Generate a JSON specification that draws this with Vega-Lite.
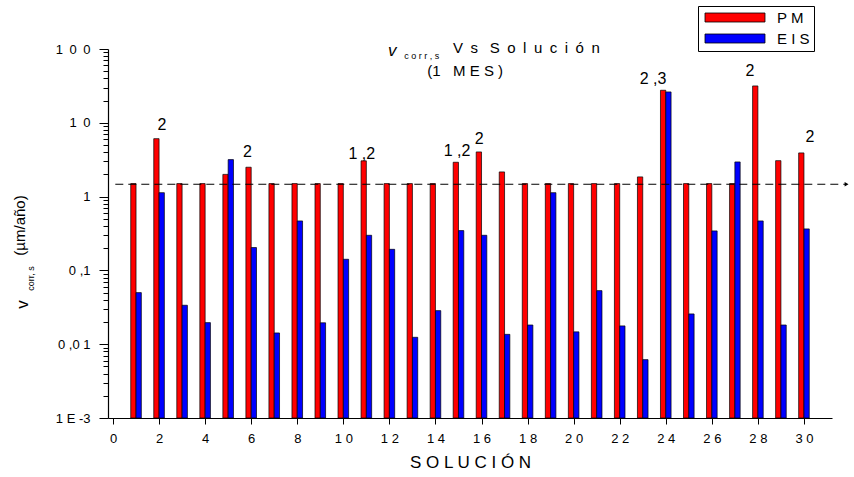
{
  "$schema": "https://vega.github.io/schema/vega-lite/v6.json",
  "width": 724,
  "height": 369,
  "autosize": {"type": "none"},
  "padding": {"left": 108, "top": 49, "right": 22, "bottom": 59},
  "background": "white",
  "config": {
    "view": {"stroke": null},
    "font": "Liberation Sans",
    "axis": {"grid": false, "domainColor": "black", "tickColor": "black", "labelColor": "black", "titleColor": "black", "labelFont": "Liberation Sans", "titleFont": "Liberation Sans", "titleFontWeight": "normal", "labelFontSize": 13, "titleFontSize": 17, "labelOverlap": false, "labelFlush": false, "domainWidth": 1.2, "tickWidth": 1}
  },
  "datasets": {
    "bars": [
      {"s": 1, "series": "PM", "v": 1.5}, {"s": 2, "series": "PM", "v": 6.1}, {"s": 3, "series": "PM", "v": 1.5}, {"s": 4, "series": "PM", "v": 1.5}, {"s": 5, "series": "PM", "v": 2.0},
      {"s": 6, "series": "PM", "v": 2.5}, {"s": 7, "series": "PM", "v": 1.5}, {"s": 8, "series": "PM", "v": 1.5}, {"s": 9, "series": "PM", "v": 1.5}, {"s": 10, "series": "PM", "v": 1.5},
      {"s": 11, "series": "PM", "v": 3.05}, {"s": 12, "series": "PM", "v": 1.5}, {"s": 13, "series": "PM", "v": 1.5}, {"s": 14, "series": "PM", "v": 1.5}, {"s": 15, "series": "PM", "v": 2.92},
      {"s": 16, "series": "PM", "v": 4.03}, {"s": 17, "series": "PM", "v": 2.16}, {"s": 18, "series": "PM", "v": 1.5}, {"s": 19, "series": "PM", "v": 1.5}, {"s": 20, "series": "PM", "v": 1.5},
      {"s": 21, "series": "PM", "v": 1.5}, {"s": 22, "series": "PM", "v": 1.5}, {"s": 23, "series": "PM", "v": 1.85}, {"s": 24, "series": "PM", "v": 27.6}, {"s": 25, "series": "PM", "v": 1.5},
      {"s": 26, "series": "PM", "v": 1.5}, {"s": 27, "series": "PM", "v": 1.5}, {"s": 28, "series": "PM", "v": 31.6}, {"s": 29, "series": "PM", "v": 3.07}, {"s": 30, "series": "PM", "v": 3.91},
      {"s": 1, "series": "EIS", "v": 0.05}, {"s": 2, "series": "EIS", "v": 1.13}, {"s": 3, "series": "EIS", "v": 0.0337}, {"s": 4, "series": "EIS", "v": 0.0196}, {"s": 5, "series": "EIS", "v": 3.17},
      {"s": 6, "series": "EIS", "v": 0.204}, {"s": 7, "series": "EIS", "v": 0.0142}, {"s": 8, "series": "EIS", "v": 0.468}, {"s": 9, "series": "EIS", "v": 0.0195}, {"s": 10, "series": "EIS", "v": 0.1415},
      {"s": 11, "series": "EIS", "v": 0.299}, {"s": 12, "series": "EIS", "v": 0.193}, {"s": 13, "series": "EIS", "v": 0.0124}, {"s": 14, "series": "EIS", "v": 0.0285}, {"s": 15, "series": "EIS", "v": 0.346},
      {"s": 16, "series": "EIS", "v": 0.299}, {"s": 17, "series": "EIS", "v": 0.0136}, {"s": 18, "series": "EIS", "v": 0.0182}, {"s": 19, "series": "EIS", "v": 1.13}, {"s": 20, "series": "EIS", "v": 0.0147},
      {"s": 21, "series": "EIS", "v": 0.0532}, {"s": 22, "series": "EIS", "v": 0.0177}, {"s": 23, "series": "EIS", "v": 0.00618}, {"s": 24, "series": "EIS", "v": 26.2}, {"s": 25, "series": "EIS", "v": 0.0257},
      {"s": 26, "series": "EIS", "v": 0.343}, {"s": 27, "series": "EIS", "v": 2.95}, {"s": 28, "series": "EIS", "v": 0.468}, {"s": 29, "series": "EIS", "v": 0.0182}, {"s": 30, "series": "EIS", "v": 0.365}
    ],
    "annots": [
      {"s": 2.13, "lab": "2", "ly": 7.9},
      {"s": 5.84, "lab": "2", "ly": 3.45},
      {"s": 10.8, "lab": "1 ,2", "ly": 3.2},
      {"s": 14.94, "lab": "1 ,2", "ly": 3.56},
      {"s": 15.9, "lab": "2", "ly": 5.2},
      {"s": 23.45, "lab": "2 ,3", "ly": 33.3},
      {"s": 27.65, "lab": "2", "ly": 42.7},
      {"s": 30.26, "lab": "2", "ly": 5.5}
    ],
    "texts": [
      {"part": "tv", "x": 12.12, "y": 95.1, "t": "v"},
      {"part": "tsub", "x": 13.4, "y": 80.1, "t": "c o r r ,  s"},
      {"part": "tmain", "x": 17.95, "y": 104.5, "t": "V\u2002s\u2002 S\u2002o\u2002l\u2002u\u2002c\u2002i\u2002ó\u2002n"},
      {"part": "tmain", "x": 15.29, "y": 50.2, "t": "(1\u00a0\u00a0 M E S )"},
      {"part": "yv", "x": -3.9, "y": 0.0344, "t": "v"},
      {"part": "ysub", "x": -3.55, "y": 0.0774, "t": "corr, s"}
    ]
  },
  "layer": [
    {
      "data": {"name": "bars"},
      "transform": [{"filter": "datum.series == 'PM'"}],
      "mark": {"type": "bar", "width": 5.3, "xOffset": -2.65, "stroke": "black", "strokeWidth": 0.7},
      "encoding": {
        "x": {"field": "s", "type": "quantitative", "scale": {"domain": [0, 31], "nice": false, "zero": false},
          "axis": {"values": [0,1,2,3,4,5,6,7,8,9,10,11,12,13,14,15,16,17,18,19,20,21,22,23,24,25,26,27,28,29,30,31],
            "labelExpr": "datum.value % 2 == 0 ? (datum.value < 10 ? '' + datum.value : floor(datum.value / 10) + ' ' + (datum.value % 10)) : ''",
            "tickSize": {"condition": {"test": "datum.value % 2 == 0", "value": 6}, "value": 3},
            "labelPadding": 8, "title": "S O L U C I Ó N", "titlePadding": 9}},
        "y": {"field": "v", "type": "quantitative", "scale": {"type": "log", "domain": [0.001, 100], "nice": false},
          "axis": {"values": [0.001,0.002,0.003,0.004,0.005,0.006,0.007,0.008,0.009,0.01,0.02,0.03,0.04,0.05,0.06,0.07,0.08,0.09,0.1,0.2,0.3,0.4,0.5,0.6,0.7,0.8,0.9,1,2,3,4,5,6,7,8,9,10,20,30,40,50,60,70,80,90,100],
            "labelExpr": "datum.value == 0.001 ? '1 E -3' : datum.value == 0.01 ? '0 ,0 1' : datum.value == 0.1 ? '0 ,1' : datum.value == 1 ? '1' : datum.value == 10 ? '1\u20020' : datum.value == 100 ? '1\u20020\u20020' : ''",
            "tickSize": {"condition": {"test": "indexof([0.001, 0.01, 0.1, 1, 10, 100], datum.value) >= 0", "value": 9}, "value": 5},
            "labelPadding": 9, "title": "(µm/año)", "titleFontSize": 15, "titleX": -89, "titleY": 176, "titleAngle": 270, "titleAlign": "center", "titleBaseline": "middle"}},
        "y2": {"datum": 0.001},
        "color": {"field": "series", "type": "nominal", "scale": {"domain": ["PM", "EIS"], "range": ["#ff0000", "#0000ff"]},
          "legend": {"orient": "none", "legendX": 590, "legendY": -43, "title": null, "symbolType": "M-1,-1H12.33V1H-1Z", "symbolSize": 81, "symbolStrokeColor": "black", "symbolStrokeWidth": 0.8, "strokeColor": "black", "fillColor": "white", "padding": 4, "labelFontSize": 15, "labelFont": "Liberation Sans", "labelColor": "black", "labelOffset": 60, "rowPadding": 5, "labelExpr": "datum.value == 'PM' ? 'P M' : 'E I S'"}}
      }
    },
    {
      "data": {"name": "bars"},
      "transform": [{"filter": "datum.series == 'EIS'"}],
      "mark": {"type": "bar", "width": 5.3, "xOffset": 2.65, "stroke": "black", "strokeWidth": 0.7},
      "encoding": {
        "x": {"field": "s", "type": "quantitative"},
        "y": {"field": "v", "type": "quantitative"},
        "y2": {"datum": 0.001},
        "color": {"field": "series", "type": "nominal"}
      }
    },
    {
      "data": {"values": [{}]},
      "mark": {"type": "rule", "strokeDash": [8, 5], "color": "black", "strokeWidth": 1, "clip": false},
      "encoding": {
        "x": {"datum": 0.1, "type": "quantitative"},
        "x2": {"datum": 31.8},
        "y": {"datum": 1.47, "type": "quantitative"}
      }
    },
    {
      "data": {"values": [{}]},
      "mark": {"type": "point", "shape": "triangle-right", "filled": true, "color": "black", "size": 20, "opacity": 1, "clip": false},
      "encoding": {
        "x": {"datum": 31.85, "type": "quantitative"},
        "y": {"datum": 1.47, "type": "quantitative"}
      }
    },
    {
      "data": {"name": "annots"},
      "mark": {"type": "text", "fontSize": 16, "baseline": "alphabetic", "align": "center", "color": "black", "font": "Liberation Sans"},
      "encoding": {
        "x": {"field": "s", "type": "quantitative"},
        "y": {"field": "ly", "type": "quantitative"},
        "text": {"field": "lab"}
      }
    },
    {
      "data": {"name": "texts"},
      "transform": [{"filter": "datum.part == 'tv'"}],
      "mark": {"type": "text", "fontSize": 17, "fontStyle": "italic", "baseline": "middle", "align": "center", "color": "black"},
      "encoding": {
        "x": {"field": "x", "type": "quantitative"},
        "y": {"field": "y", "type": "quantitative"},
        "text": {"field": "t"}
      }
    },
    {
      "data": {"name": "texts"},
      "transform": [{"filter": "datum.part == 'tsub'"}],
      "mark": {"type": "text", "fontSize": 9, "baseline": "middle", "align": "center", "color": "black"},
      "encoding": {
        "x": {"field": "x", "type": "quantitative"},
        "y": {"field": "y", "type": "quantitative"},
        "text": {"field": "t"}
      }
    },
    {
      "data": {"name": "texts"},
      "transform": [{"filter": "datum.part == 'tmain'"}],
      "mark": {"type": "text", "fontSize": 15, "baseline": "middle", "align": "center", "color": "black"},
      "encoding": {
        "x": {"field": "x", "type": "quantitative"},
        "y": {"field": "y", "type": "quantitative"},
        "text": {"field": "t"}
      }
    },
    {
      "data": {"name": "texts"},
      "transform": [{"filter": "datum.part == 'yv'"}],
      "mark": {"type": "text", "fontSize": 17, "baseline": "middle", "align": "center", "color": "black", "angle": 270},
      "encoding": {
        "x": {"field": "x", "type": "quantitative"},
        "y": {"field": "y", "type": "quantitative"},
        "text": {"field": "t"}
      }
    },
    {
      "data": {"name": "texts"},
      "transform": [{"filter": "datum.part == 'ysub'"}],
      "mark": {"type": "text", "fontSize": 9, "baseline": "middle", "align": "center", "color": "black", "angle": 270},
      "encoding": {
        "x": {"field": "x", "type": "quantitative"},
        "y": {"field": "y", "type": "quantitative"},
        "text": {"field": "t"}
      }
    }
  ]
}
